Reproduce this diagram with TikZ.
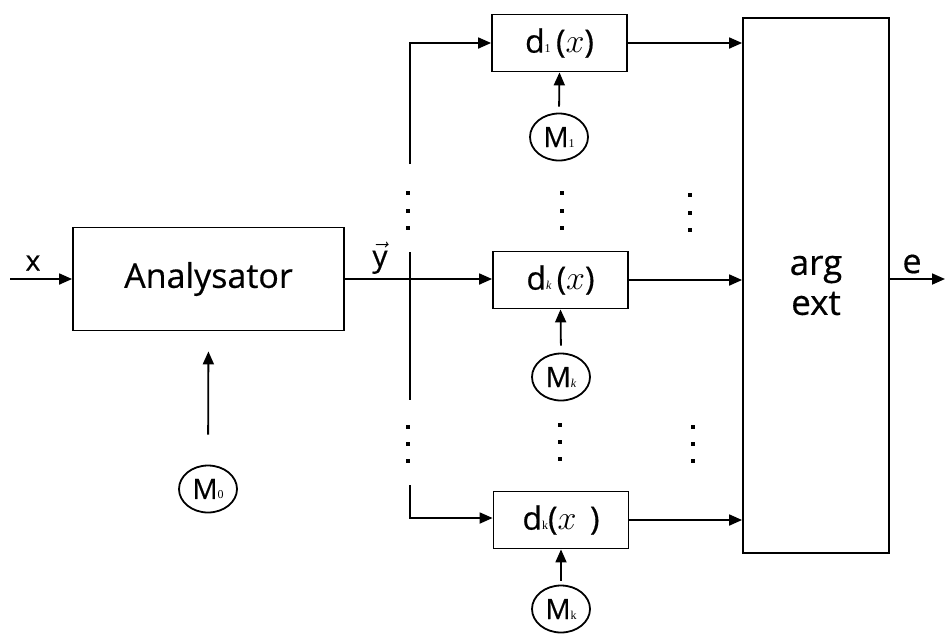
\documentclass[tikz,border=0pt]{standalone}
\usepackage{fix-cm}
\usepackage{amsmath}
\usepackage{fontspec}
\setmainfont{Open Sans}[FakeBold=0.5]
\newfontfamily\serifface{Liberation Serif}
\usetikzlibrary{arrows.meta,shapes.geometric}

% small serif subscript and italic argument inside the decision boxes
\newcommand{\subidx}[1]{{\fontsize{12}{12}\selectfont\serifface #1}}
\newcommand{\argx}{{\fontsize{34}{34}\selectfont$x$}}

\begin{document}
\begin{tikzpicture}[x=1pt,y=-1pt,
  line width=1.8pt,
  arr/.style={-{Triangle[length=13pt,width=11pt]}},
  block/.style={draw,rectangle,inner sep=0pt},
  dfun/.style={block,minimum width=135pt,minimum height=57pt,
               font=\fontsize{32}{32}\selectfont},
  model/.style={draw,ellipse,minimum width=58pt,minimum height=47pt,inner sep=0pt,
                font=\fontsize{28}{28}\selectfont},
  lbl/.style={inner sep=0pt},
  dot/.style={fill=black}
]
\useasboundingbox (0,0) rectangle (945,633);

% blocks
\node[block,minimum width=271pt,minimum height=103pt,
      font=\fontsize{34}{34}\selectfont] (ana) at (208.5,279) {Analysator};
\node[dfun] (d1) at (559.5,43) {d\subidx{1}\,(\argx)};
\node[dfun] (dk) at (560.5,280) {d\subidx{\itshape k}\,(\argx)};
\node[dfun] (dK) at (561,520) {d\subidx{\textsc{k}}(\argx\ \,)};
\node[block,minimum width=146pt,minimum height=535pt,align=center,
      font=\fontsize{35}{40}\selectfont] (argext) at (816,285.5) {arg\\ext};

% model references
\node[model] (m0) at (208,489) {M\subidx{0}};
\node[model] (m1) at (559,137) {M\subidx{1}};
\node[model] (mk) at (561,377) {M\subidx{\itshape k}};
\node[model] (mK) at (561,609) {M\subidx{\textsc{k}}};

% input and output
\coordinate (xin) at (10,279);
\coordinate (eout) at (945,279);
\draw[arr] (xin) -- (ana.west);
\node[lbl,font=\fontsize{28}{28}\selectfont] (xl) at (33,263) {x};
\draw[arr] (argext.east |- eout) -- (eout);
\node[lbl,font=\fontsize{34}{34}\selectfont] (el) at (912,264) {e};

% feature vector and distribution bus
\coordinate (busA) at (410,164);
\coordinate (busTop) at (410,43);
\coordinate (busB) at (410,252);
\coordinate (busC) at (410,400);
\coordinate (busD) at (410,485);
\coordinate (busBot) at (410,518);
\draw[arr] (ana.east) -- (dk.west |- ana.east);
\node[lbl,font=\fontsize{30}{30}\selectfont] (yl) at (380,258) {$\vec{\text{y}}$};
\draw[arr] (busA) -- (busTop) -- (d1.west);
\draw (busB) -- (busC);
\draw[arr] (busD) -- (busBot) -- (dK.west |- busBot);

% models feed the classifiers
\draw[arr,shorten <=6pt] (m1.north) -- (d1.south);
\draw[arr,shorten <=7pt] (mk.north) -- (dk.south);
\draw[arr,shorten <=4pt] (mK.north) -- (dK.south);
\draw[arr,shorten <=30pt,shorten >=20pt] (m0.north) -- (ana.south);

% classifier outputs to the decision block
\draw[arr] (d1.east) -- (d1.east -| argext.west);
\draw[arr] (dk.east) -- (dk.east -| argext.west);
\draw[arr] (dK.east) -- (dK.east -| argext.west);

% ellipsis dots
\foreach \cx/\cy in {408/193,408/211,408/228,408/427,408/444,408/461,
                     562/193,562/211,562/228,560/425,560/442,560/459,
                     690/195,690/213,690/230,693/427,693/444,693/461}
  \fill[dot] (\cx-2,\cy-2) rectangle (\cx+2,\cy+2);
\end{tikzpicture}
\end{document}
